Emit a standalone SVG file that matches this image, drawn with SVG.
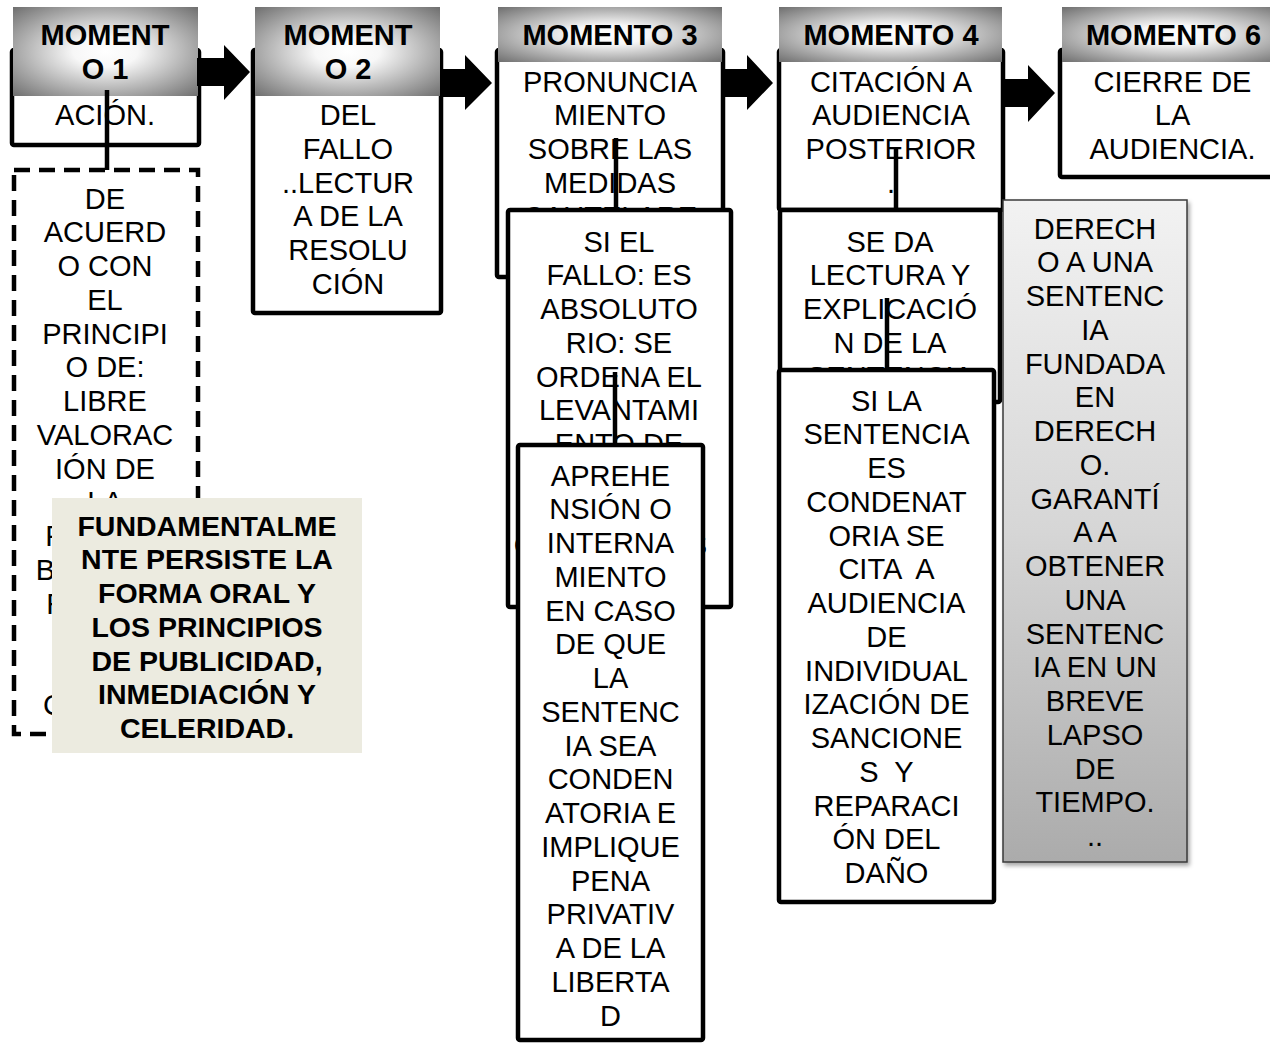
<svg xmlns="http://www.w3.org/2000/svg" width="1270" height="1043" viewBox="0 0 1270 1043">
  <defs>
    <radialGradient id="hdrGrad" cx="0.5" cy="0.5" r="0.7">
      <stop offset="0" stop-color="#ffffff"/>
      <stop offset="0.25" stop-color="#f7f7f7"/>
      <stop offset="1" stop-color="#707070"/>
    </radialGradient>
    <linearGradient id="greyGrad" x1="0" y1="0" x2="0" y2="1">
      <stop offset="0" stop-color="#f2f2f2"/>
      <stop offset="0.5" stop-color="#d6d6d6"/>
      <stop offset="1" stop-color="#ababab"/>
    </linearGradient>
    <filter id="shadow" x="-10%" y="-10%" width="130%" height="130%">
      <feDropShadow dx="2" dy="3" stdDeviation="2" flood-color="#000" flood-opacity="0.35"/>
    </filter>
  </defs>
  <style>
    .box { fill: #ffffff; stroke: #000000; stroke-width: 4.5; }
    .dash { fill: #ffffff; stroke: #000000; stroke-width: 4.5; stroke-dasharray: 16 9; }
    .hdr { fill: url(#hdrGrad); }
    .hdrTxt { font-family: "Liberation Sans", Arial, sans-serif; font-size: 29px; font-weight: bold; fill: #000; text-anchor: middle; }
    .txt { font-family: "Liberation Sans", Arial, sans-serif; font-size: 29px; fill: #000; text-anchor: middle; }
    .bold { font-family: "Liberation Sans", Arial, sans-serif; font-size: 28.5px; font-weight: bold; fill: #000; text-anchor: middle; }
    .link { stroke: #000000; stroke-width: 4.5; fill: none; }
    .arrow { fill: #000000; }
  </style>
  <rect width="1270" height="1043" fill="#ffffff"/>

  <!-- Momento 1 -->
  <g id="momento1">
    <rect class="box" x="12" y="50" width="187" height="95" rx="2"/>
    <rect class="hdr" x="13" y="7" width="185" height="89"/>
    <text class="hdrTxt"><tspan x="105" y="45">MOMENT</tspan><tspan x="105" y="79">O 1</tspan></text>
    <text class="txt" x="105" y="125">ACIÓN.</text>
  </g>

  <!-- Principle note under Momento 1 (lower lines sit behind the highlighted note) -->
  <g id="principio">
    <rect class="dash" x="14" y="170" width="184" height="564"/>
    <text class="txt"><tspan x="105" y="208.5">DE</tspan><tspan x="105" dy="33.75">ACUERD</tspan><tspan x="105" dy="33.75">O CON</tspan><tspan x="105" dy="33.75">EL</tspan><tspan x="105" dy="33.75">PRINCIPI</tspan><tspan x="105" dy="33.75">O DE:</tspan><tspan x="105" dy="33.75">LIBRE</tspan><tspan x="105" dy="33.75">VALORAC</tspan><tspan x="105" dy="33.75">IÓN DE</tspan><tspan x="105" dy="33.75">LA</tspan><tspan x="105" dy="33.75">PRUEBA</tspan><tspan x="105" dy="33.75">BAJO LAS</tspan><tspan x="105" dy="33.75">REGLAS</tspan><tspan x="105" dy="33.75">DE LA</tspan><tspan x="105" dy="33.75">SANA</tspan><tspan x="105" dy="33.75">CRÍTICA.</tspan></text>
  </g>

  <!-- Highlighted note -->
  <g id="nota">
    <rect x="52" y="498" width="310" height="255" fill="#ecebe0"/>
    <text class="bold"><tspan x="207" y="535.5">FUNDAMENTALME</tspan><tspan x="207" dy="33.75">NTE PERSISTE LA</tspan><tspan x="207" dy="33.75">FORMA ORAL Y</tspan><tspan x="207" dy="33.75">LOS PRINCIPIOS</tspan><tspan x="207" dy="33.75">DE PUBLICIDAD,</tspan><tspan x="207" dy="33.75">INMEDIACIÓN Y</tspan><tspan x="207" dy="33.75">CELERIDAD.</tspan></text>
  </g>

  <!-- Momento 2 -->
  <g id="momento2">
    <rect class="box" x="253" y="50" width="188" height="263" rx="2"/>
    <rect class="hdr" x="255" y="7" width="185" height="89"/>
    <text class="hdrTxt"><tspan x="348" y="45">MOMENT</tspan><tspan x="348" y="79">O 2</tspan></text>
    <text class="txt"><tspan x="348" y="125">DEL</tspan><tspan x="348" dy="33.75">FALLO</tspan><tspan x="348" dy="33.75">..LECTUR</tspan><tspan x="348" dy="33.75">A DE LA</tspan><tspan x="348" dy="33.75">RESOLU</tspan><tspan x="348" dy="33.75">CIÓN</tspan></text>
  </g>

  <!-- Momento 3 -->
  <g id="momento3">
    <rect class="box" x="497" y="50" width="226" height="227" rx="2"/>
    <rect class="hdr" x="498" y="7" width="224" height="55"/>
    <text class="hdrTxt" x="610" y="45">MOMENTO 3</text>
    <text class="txt"><tspan x="610" y="91.5">PRONUNCIA</tspan><tspan x="610" dy="33.75">MIENTO</tspan><tspan x="610" dy="33.75">SOBRE LAS</tspan><tspan x="610" dy="33.75">MEDIDAS</tspan><tspan x="610" dy="33.75">CAUTELARE</tspan></text>
  </g>

  <g id="momento3-fallo">
    <rect class="box" x="508" y="210" width="223" height="397" rx="2"/>
    <text class="txt"><tspan x="619" y="251.5">SI EL</tspan><tspan x="619" dy="33.75">FALLO: ES</tspan><tspan x="619" dy="33.75">ABSOLUTO</tspan><tspan x="619" dy="33.75">RIO: SE</tspan><tspan x="619" dy="33.75">ORDENA EL</tspan><tspan x="619" dy="33.75">LEVANTAMI</tspan><tspan x="619" dy="33.75">ENTO DE</tspan></text>
    <text class="txt" x="610.5" y="555">CAUTELARES</text>
  </g>

  <g id="momento3-aprehension">
    <rect class="box" x="518" y="445" width="185" height="595" rx="2"/>
    <text class="txt"><tspan x="610.5" y="485.5">APREHE</tspan><tspan x="610.5" dy="33.75">NSIÓN O</tspan><tspan x="610.5" dy="33.75">INTERNA</tspan><tspan x="610.5" dy="33.75">MIENTO</tspan><tspan x="610.5" dy="33.75">EN CASO</tspan><tspan x="610.5" dy="33.75">DE QUE</tspan><tspan x="610.5" dy="33.75">LA</tspan><tspan x="610.5" dy="33.75">SENTENC</tspan><tspan x="610.5" dy="33.75">IA SEA</tspan><tspan x="610.5" dy="33.75">CONDEN</tspan><tspan x="610.5" dy="33.75">ATORIA E</tspan><tspan x="610.5" dy="33.75">IMPLIQUE</tspan><tspan x="610.5" dy="33.75">PENA</tspan><tspan x="610.5" dy="33.75">PRIVATIV</tspan><tspan x="610.5" dy="33.75">A DE LA</tspan><tspan x="610.5" dy="33.75">LIBERTA</tspan><tspan x="610.5" dy="33.75">D</tspan></text>
  </g>

  <!-- Momento 4 -->
  <g id="momento4">
    <rect class="box" x="779" y="50" width="224" height="160" rx="2"/>
    <rect class="hdr" x="779" y="7" width="223" height="55"/>
    <text class="hdrTxt" x="891" y="45">MOMENTO 4</text>
    <text class="txt"><tspan x="891" y="91.5">CITACIÓN A</tspan><tspan x="891" dy="33.75">AUDIENCIA</tspan><tspan x="891" dy="33.75">POSTERIOR</tspan><tspan x="891" dy="33.75">.</tspan></text>
  </g>

  <g id="momento4-lectura">
    <rect class="box" x="780" y="210" width="220" height="192" rx="2"/>
    <text class="txt"><tspan x="890" y="251.5">SE DA</tspan><tspan x="890" dy="33.75">LECTURA Y</tspan><tspan x="890" dy="33.75">EXPLICACIÓ</tspan><tspan x="890" dy="33.75">N DE LA</tspan><tspan x="890" dy="33.75">SENTENCIA</tspan></text>
  </g>

  <g id="momento4-condena">
    <rect class="box" x="779" y="370" width="215" height="532" rx="2"/>
    <text class="txt" xml:space="preserve"><tspan x="886.5" y="410.5">SI LA</tspan><tspan x="886.5" dy="33.75">SENTENCIA</tspan><tspan x="886.5" dy="33.75">ES</tspan><tspan x="886.5" dy="33.75">CONDENAT</tspan><tspan x="886.5" dy="33.75">ORIA SE</tspan><tspan x="886.5" dy="33.75">CITA  A</tspan><tspan x="886.5" dy="33.75">AUDIENCIA</tspan><tspan x="886.5" dy="33.75">DE</tspan><tspan x="886.5" dy="33.75">INDIVIDUAL</tspan><tspan x="886.5" dy="33.75">IZACIÓN DE</tspan><tspan x="886.5" dy="33.75">SANCIONE</tspan><tspan x="886.5" dy="33.75">S  Y</tspan><tspan x="886.5" dy="33.75">REPARACI</tspan><tspan x="886.5" dy="33.75">ÓN DEL</tspan><tspan x="886.5" dy="33.75">DAÑO</tspan></text>
  </g>

  <g id="derecho">
    <rect x="1003" y="200" width="184" height="662" fill="url(#greyGrad)" stroke="#3a3a3a" stroke-width="1.5" filter="url(#shadow)"/>
    <text class="txt"><tspan x="1095" y="238.5">DERECH</tspan><tspan x="1095" dy="33.75">O A UNA</tspan><tspan x="1095" dy="33.75">SENTENC</tspan><tspan x="1095" dy="33.75">IA</tspan><tspan x="1095" dy="33.75">FUNDADA</tspan><tspan x="1095" dy="33.75">EN</tspan><tspan x="1095" dy="33.75">DERECH</tspan><tspan x="1095" dy="33.75">O.</tspan><tspan x="1095" dy="33.75">GARANTÍ</tspan><tspan x="1095" dy="33.75">A A</tspan><tspan x="1095" dy="33.75">OBTENER</tspan><tspan x="1095" dy="33.75">UNA</tspan><tspan x="1095" dy="33.75">SENTENC</tspan><tspan x="1095" dy="33.75">IA EN UN</tspan><tspan x="1095" dy="33.75">BREVE</tspan><tspan x="1095" dy="33.75">LAPSO</tspan><tspan x="1095" dy="33.75">DE</tspan><tspan x="1095" dy="33.75">TIEMPO.</tspan><tspan x="1095" dy="33.75">..</tspan></text>
  </g>

  <!-- Momento 6 -->
  <g id="momento6">
    <rect class="box" x="1060" y="50" width="230" height="127" rx="2"/>
    <rect class="hdr" x="1062" y="7" width="224" height="55"/>
    <text class="hdrTxt" x="1173.5" y="45">MOMENTO 6</text>
    <text class="txt"><tspan x="1172.5" y="91.5">CIERRE DE</tspan><tspan x="1172.5" dy="33.75">LA</tspan><tspan x="1172.5" dy="33.75">AUDIENCIA.</tspan></text>
  </g>

  <!-- Connectors: block arrows between moments and vertical links -->
  <g id="connectors">
    <polygon class="arrow" points="197,58 224,58 224,45 250,72 224,100 224,86 197,86"/>
    <polygon class="arrow" points="441,69 465,69 465,55 492,83 465,110 465,97 441,97"/>
    <polygon class="arrow" points="723,69 747,69 747,55 773,83 747,110 747,97 723,97"/>
    <polygon class="arrow" points="1003,79 1028,79 1028,65 1055,93 1028,122 1028,107 1003,107"/>
    <line class="link" x1="107" y1="90" x2="107" y2="170"/>
    <line class="link" x1="616" y1="138" x2="616" y2="210"/>
    <line class="link" x1="615" y1="372" x2="615" y2="445"/>
    <line class="link" x1="896" y1="147" x2="896" y2="210"/>
    <line class="link" x1="887" y1="298" x2="887" y2="370"/>
  </g>
</svg>
